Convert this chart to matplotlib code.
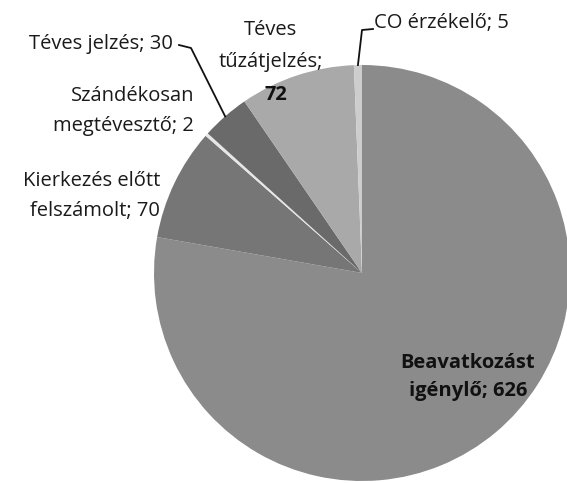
import numpy as np
import matplotlib.pyplot as plt

# Adatok
kategoriak = ['Beavatkozást igénylő', 'Kierkezés előtt felszámolt', 'Szándékosan megtévesztő',
              'Téves jelzés', 'Téves tűzátjelzés', 'CO érzékelő']
ertekek = [626, 70, 2, 30, 72, 5]
szinek = ['#8b8b8b', '#767676', '#e6e6e6', '#6a6a6a', '#a9a9a9', '#cdcdcd']

W, H = 567, 483
plt.rcParams['font.family'] = ['Open Sans', 'DejaVu Sans']

fig = plt.figure(figsize=(W / 100, H / 100), dpi=100)

# kör középpontja és sugara pixelben
cx, cy, r = 362, 273, 208
ax = fig.add_axes([(cx - r) / W, (H - cy - r) / H, 2 * r / W, 2 * r / H])
wedges, _ = ax.pie(ertekek, colors=szinek, startangle=90, counterclock=False,
                   radius=1, wedgeprops=dict(linewidth=0))
ax.set_xlim(-1, 1)
ax.set_ylim(-1, 1)
ax.set_aspect('equal')
ax.axis('off')
for w in wedges:
    w.set_clip_on(False)


def px(x, y):
    return x / W, 1 - y / H


def edge_point(w, frac=0.5):
    # pont a szelet ívén
    ang = np.deg2rad(w.theta1 + (w.theta2 - w.theta1) * frac)
    return np.cos(ang), np.sin(ang)


fs = 14.5
tc = '#1a1a1a'
ls = 1.68

fig.text(*px(173, 44), 'Téves jelzés; 30', ha='right', va='center', fontsize=fs, color=tc)
fig.text(*px(194, 111), 'Szándékosan\nmegtévesztő; 2', ha='right', va='center',
         fontsize=fs, color=tc, linespacing=ls, multialignment='right')
fig.text(*px(160, 196), 'Kierkezés előtt\nfelszámolt; 70', ha='right', va='center',
         fontsize=fs, color=tc, linespacing=ls, multialignment='right')
fig.text(*px(271, 46), 'Téves\ntűzátjelzés;', ha='center', va='center',
         fontsize=fs, color=tc, linespacing=1.8)
fig.text(*px(276, 95), '72', ha='center', va='center', fontsize=fs,
         color='#111111', fontweight='bold')
fig.text(*px(374, 23), 'CO érzékelő; 5', ha='left', va='center', fontsize=fs, color=tc)
fig.text(*px(468, 377), 'Beavatkozást\nigénylő; 626', ha='center', va='center',
         fontsize=fs, color='#111111', fontweight='bold', linespacing=1.5)

# vezető vonalak
inv = ax.transData.inverted()
def to_data(x, y):
    return inv.transform(fig.transFigure.transform(px(x, y)))

p = edge_point(wedges[3])
a = to_data(179, 45)
b = to_data(191, 48)
ax.plot([a[0], b[0], p[0]], [a[1], b[1], p[1]], color='#111111', lw=1.3, clip_on=False)

p = edge_point(wedges[5])
a = to_data(373, 29)
b = to_data(362, 30)
ax.plot([a[0], b[0], p[0]], [a[1], b[1], p[1]], color='#111111', lw=1.3, clip_on=False)

fig.savefig('out.png', dpi=100)
